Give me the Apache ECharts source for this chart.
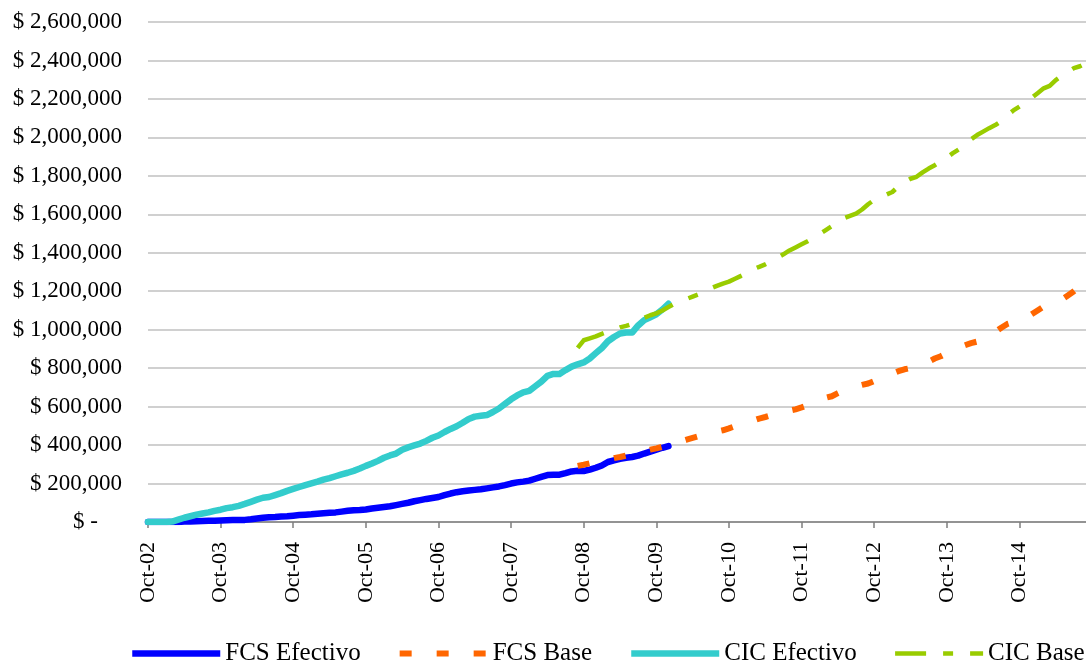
<!DOCTYPE html>
<html>
<head>
<meta charset="utf-8">
<title>FCS / CIC</title>
<script src="https://cdn.jsdelivr.net/npm/echarts@6/dist/echarts.min.js"></script>
<style>
  html, body { margin: 0; padding: 0; background: #ffffff; }
  #chart { width: 1086px; height: 662px; }
</style>
</head>
<body>
<div id="chart"></div>
<script>
// Monthly axis: starts Oct-02, one category per month
const MONTHS = ['Jan','Feb','Mar','Apr','May','Jun','Jul','Aug','Sep','Oct','Nov','Dec'];
const START_MONTH = 9;      // October
const START_YEAR = 2002;
const MONTH_COUNT = 156;    // Oct-02 .. Sep-15

const Y_MIN = 0;
const Y_MAX = 2600000;
const Y_STEP = 200000;

const seriesNames = ['FCS Efectivo', 'FCS Base', 'CIC Efectivo', 'CIC Base'];

// Actual cumulative amounts, from Oct-02
const fcsEfectivo = [
  0, 0, 0, 0, 0, 0, 2000, 3000, 4000, 5000, 6000, 7000,
  8000, 9000, 10000, 10000, 11000, 14000, 18000, 22000, 25000, 26000, 28000, 30000,
  33000, 36000, 38000, 40000, 43000, 46000, 48000, 50000, 54000, 58000, 61000, 62000,
  65000, 70000, 74000, 78000, 82000, 88000, 94000, 100000, 108000, 114000, 120000, 125000,
  130000, 140000, 148000, 155000, 160000, 164000, 167000, 170000, 175000, 180000, 185000, 192000,
  200000, 206000, 210000, 215000, 225000, 235000, 244000, 246000, 246000, 254000, 263000, 266000,
  265000, 272000, 282000, 294000, 312000, 320000, 328000, 334000, 338000, 345000, 356000, 366000,
  376000, 386000, 395000
];

const cicEfectivo = [
  0, 0, 0, 0, 2000, 12000, 22000, 30000, 38000, 44000, 50000, 58000,
  64000, 72000, 77000, 84000, 94000, 105000, 116000, 126000, 130000, 140000, 150000, 162000,
  172000, 182000, 192000, 201000, 210000, 220000, 228000, 238000, 248000, 256000, 266000, 278000,
  292000, 304000, 318000, 334000, 346000, 356000, 376000, 388000, 398000, 408000, 422000, 438000,
  450000, 468000, 484000, 498000, 516000, 536000, 548000, 552000, 556000, 572000, 590000, 614000,
  638000, 658000, 674000, 682000, 706000, 730000, 760000, 770000, 770000, 790000, 808000, 820000,
  830000, 850000, 878000, 905000, 940000, 962000, 980000, 985000, 985000, 1022000, 1050000, 1065000,
  1080000, 1105000, 1135000
];

// Projections, starting Sep-08
const BASE_START = 71;

const fcsBase = [
  292000,
  298000, 305000, 312000, 318000, 325000, 332000, 338000, 345000, 352000, 360000, 368000, 376000,
  383000, 391000, 399000, 408000, 418000, 428000, 437000, 446000, 454000, 462000, 470000, 477000,
  487000, 498000, 508000, 518000, 528000, 538000, 546000, 555000, 563000, 571000, 579000, 586000,
  596000, 607000, 620000, 633000, 646000, 654000, 670000, 685000, 695000, 705000, 713000, 720000,
  733000, 746000, 760000, 772000, 784000, 794000, 800000, 806000, 818000, 834000, 850000, 862000,
  878000, 893000, 907000, 919000, 930000, 938000, 955000, 971000, 988000, 1010000, 1030000, 1040000,
  1052000, 1063000, 1080000, 1100000, 1120000, 1133000, 1145000, 1157000, 1178000, 1200000, 1225000, 1245000
];

const cicBase = [
  905000,
  945000, 955000, 965000, 978000, 990000, 1000000, 1012000, 1020000, 1030000, 1042000, 1062000, 1075000,
  1085000, 1100000, 1118000, 1135000, 1148000, 1160000, 1172000, 1184000, 1200000, 1215000, 1228000, 1240000,
  1250000, 1265000, 1280000, 1296000, 1315000, 1327000, 1340000, 1356000, 1374000, 1392000, 1412000, 1428000,
  1444000, 1460000, 1478000, 1498000, 1518000, 1538000, 1560000, 1580000, 1592000, 1604000, 1625000, 1652000,
  1675000, 1690000, 1702000, 1716000, 1745000, 1768000, 1785000, 1795000, 1818000, 1838000, 1855000, 1875000,
  1895000, 1918000, 1938000, 1962000, 1990000, 2012000, 2030000, 2048000, 2064000, 2085000, 2115000, 2140000,
  2160000, 2180000, 2205000, 2230000, 2255000, 2268000, 2298000, 2320000, 2340000, 2360000, 2370000, 2385000
];

// Category labels like "Oct-02"
const categories = [];
for (let i = 0; i < MONTH_COUNT; i++) {
  const m = (START_MONTH + i) % 12;
  const y = START_YEAR + Math.floor((START_MONTH + i) / 12);
  categories.push(MONTHS[m] + '-' + String(y % 100).padStart(2, '0'));
}

// Place a series on the full monthly axis, blank outside its range
function onAxis(values, start) {
  const out = new Array(MONTH_COUNT).fill(null);
  values.forEach((v, k) => { if (start + k < MONTH_COUNT) out[start + k] = v; });
  return out;
}

const FONT = "'Times New Roman', 'Liberation Serif', serif";

function money(v) {
  if (v === 0) return '{z|$ -}';
  return '$ ' + v.toLocaleString('en-US');
}

// Line look of each series, shared by the plot and the legend
const STYLES = {
  'FCS Efectivo': { color: '#0000ff', width: 6.5, type: 'solid', cap: 'round', join: 'round' },
  'FCS Base':     { color: '#ff6600', width: 6,   type: [12, 25], cap: 'butt', join: 'round' },
  'CIC Efectivo': { color: '#33cccc', width: 6.5, type: 'solid', cap: 'round', join: 'round' },
  'CIC Base':     { color: '#99cc00', width: 4.5, type: [31, 17, 10, 17], cap: 'butt', join: 'round' }
};

const DATA = {
  'FCS Efectivo': onAxis(fcsEfectivo, 0),
  'FCS Base': onAxis(fcsBase, BASE_START),
  'CIC Efectivo': onAxis(cicEfectivo, 0),
  'CIC Base': onAxis(cicBase, BASE_START)
};

const chart = echarts.init(document.getElementById('chart'), null, { renderer: 'canvas' });

chart.setOption({
  animation: false,
  backgroundColor: '#ffffff',
  grid: { left: 148, right: -2, top: 22, bottom: 140, containLabel: false },
  legend: {
    data: seriesNames.map(n => ({
      name: n,
      lineStyle: { color: STYLES[n].color, width: STYLES[n].width, type: STYLES[n].type, cap: 'butt' }
    })),
    orient: 'horizontal',
    left: 129,
    top: 641,
    width: 1000,
    itemWidth: 88,
    itemHeight: 20,
    itemGap: 36,
    padding: 0,
    itemStyle: { opacity: 0 },
    textStyle: { fontFamily: FONT, fontSize: 25, color: '#000000' }
  },
  xAxis: {
    type: 'category',
    data: categories,
    boundaryGap: false,
    axisLine: { show: true, lineStyle: { color: '#7f7f7f', width: 1.5 } },
    axisTick: { show: true, interval: 11, length: 6, lineStyle: { color: '#7f7f7f', width: 1.5 } },
    axisLabel: {
      interval: 11,
      rotate: 90,
      margin: 20,
      fontFamily: FONT,
      fontSize: 22,
      color: '#000000'
    },
    splitLine: { show: false }
  },
  yAxis: {
    type: 'value',
    min: Y_MIN,
    max: Y_MAX,
    interval: Y_STEP,
    axisLine: { show: false },
    axisTick: { show: false },
    axisLabel: {
      margin: 26,
      fontFamily: FONT,
      fontSize: 23,
      color: '#000000',
      formatter: money,
      rich: { z: { fontFamily: FONT, fontSize: 23, color: '#000000', padding: [0, 24, 0, 0] } }
    },
    splitLine: { show: true, lineStyle: { color: '#c0c0c0', width: 1.5 } }
  },
  series: seriesNames.map(n => ({
    name: n,
    type: 'line',
    data: DATA[n],
    showSymbol: false,
    symbol: 'none',
    connectNulls: false,
    color: STYLES[n].color,
    lineStyle: {
      color: STYLES[n].color,
      width: STYLES[n].width,
      type: STYLES[n].type,
      cap: STYLES[n].cap,
      join: STYLES[n].join
    }
  }))
});
</script>
</body>
</html>
